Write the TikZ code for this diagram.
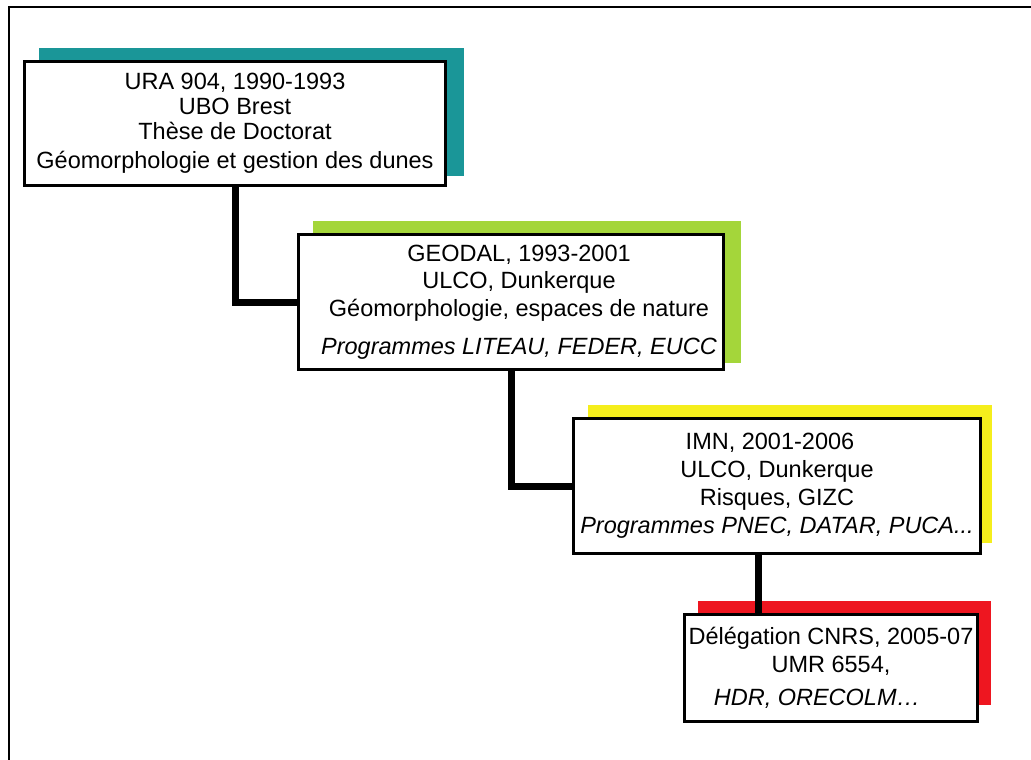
\documentclass[tikz,border=0pt]{standalone}
\usepackage{fontspec}
\setmainfont{Liberation Sans}
\definecolor{cteal}{RGB}{26,150,152}
\definecolor{cgreen}{RGB}{164,214,58}
\definecolor{cyellow}{RGB}{245,238,28}
\definecolor{cred}{RGB}{238,22,32}
\tikzset{
  stagebox/.style={draw=black, line width=3pt, fill=white, inner sep=0pt, align=center},
  link/.style={line width=7pt, line cap=butt}
}
\begin{document}
\begin{tikzpicture}[x=1pt,y=-1pt]
\useasboundingbox (0,0) rectangle (1031,760);
\fill[white] (0,0) rectangle (1031,760);
% frame (top and left only)
\draw[line width=2pt] (1031,7) -- (9,7) -- (9,760);
% shadows
\fill[cteal]   (39,48)   rectangle (464,176);
\fill[cgreen]  (313,221) rectangle (741,363);
\fill[cyellow] (588,405) rectangle (992,543);
\fill[cred]    (698,601) rectangle (991,705);
% boxes
\node[stagebox, minimum width=421pt, minimum height=124pt, font=\fontsize{23.5}{25}\selectfont] (b1) at (235,123.5)
  {URA 904, 1990-1993\\UBO Brest\\Thèse de Doctorat\\[4pt]Géomorphologie et gestion des dunes};
\node[stagebox, minimum width=425pt, minimum height=135pt, font=\fontsize{23.5}{27.5}\selectfont] (b2) at (511,302)
  {\hspace*{16pt}GEODAL, 1993-2001\\\hspace*{16pt}ULCO, Dunkerque\\\hspace*{16pt}Géomorphologie, espaces de nature\\[11pt]\hspace*{16pt}\itshape Programmes LITEAU, FEDER, EUCC};
\node[stagebox, minimum width=407pt, minimum height=135pt, font=\fontsize{23.5}{28}\selectfont] (b3) at (777,486)
  {IMN, 2001-2006\hspace*{14pt}\\ULCO, Dunkerque\\Risques, GIZC\\\itshape Programmes PNEC, DATAR, PUCA...};
\node[stagebox, minimum width=293pt, minimum height=107pt, font=\fontsize{23.5}{28}\selectfont] (b4) at (831,668)
  {Délégation CNRS, 2005-07\\UMR 6554,\\[5pt]\itshape HDR, ORECOLM…\hspace*{28pt}};
% connectors
\coordinate (c3) at ([xshift=-19pt]b3.south);
\draw[link] (b1.south) |- (b2.west);
\draw[link] (b2.south) |- (b3.west);
\draw[link] (c3) -- (c3 |- b4.north);
\end{tikzpicture}
\end{document}
